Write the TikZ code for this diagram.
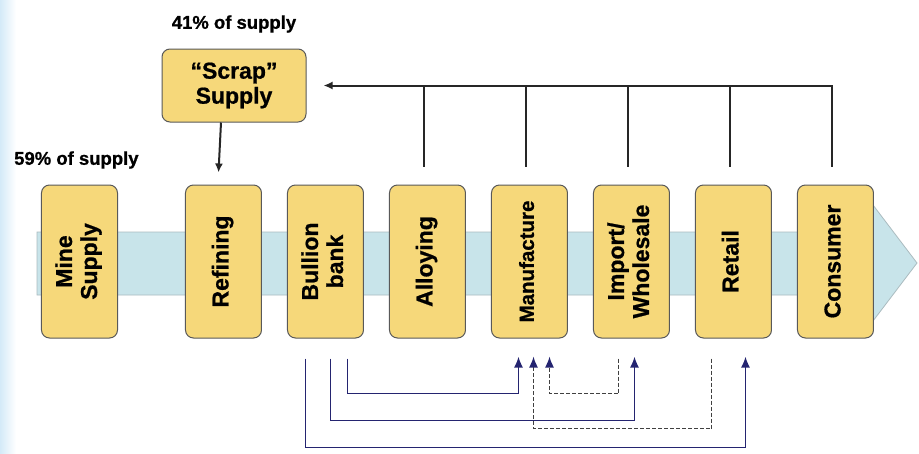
\documentclass[tikz,border=0pt]{standalone}
\usepackage{fontspec}
\setmainfont[BoldFeatures={FakeBold=0.8}]{Liberation Sans}
\usepackage{graphicx}
\usepackage{tikz}
\usetikzlibrary{matrix,arrows.meta,positioning}
\definecolor{boxyellow}{RGB}{246,216,122}
\definecolor{bandblue}{RGB}{200,228,234}
\definecolor{navy}{RGB}{36,36,112}
\definecolor{edgeblue}{RGB}{212,234,248}
\newcommand{\vlab}[1]{\rotatebox{90}{\begin{tabular}{@{}c@{}}#1\end{tabular}}}
\tikzset{
	stage/.style={draw=black!65, fill=boxyellow, rounded corners=8pt, line width=1pt,
		minimum width=76pt, minimum height=153pt, inner sep=0pt, anchor=center,
		font=\bfseries\fontsize{23}{25}\selectfont},
	share/.style={font=\bfseries\fontsize{18.5}{20}\selectfont, inner sep=0pt},
	ret/.style={draw=black!85, line width=2pt, ->, >={Latex[length=9pt,width=8pt]}},
	flow/.style={draw=navy, line width=1.8pt, -{Latex[length=11pt,width=9pt]}},
	back/.style={draw=black!75, line width=1.6pt, dash pattern=on 4pt off 2pt,
		-{Latex[length=11pt,width=9pt,color=navy]}}
}

\begin{document}
\begin{tikzpicture}[x=1pt, y=-1pt]
			\useasboundingbox (0,0) rectangle (919,453);
			\fill[white] (0,0) rectangle (919,453);
			\shade[left color=edgeblue, right color=white] (0,0) rectangle (16,453);
			% the supply chain band
			\draw[bandblue!60!gray, fill=bandblue, line width=0.8pt]
			(37,232) -- (873,232) -- (873,205) -- (917,263) -- (873,321) -- (873,295) -- (37,295) -- cycle;
			\matrix (c) [matrix of nodes, nodes={stage}, column sep=25pt] at (457.5,261.5)
			{
				\vlab{Mine\\Supply} &[42pt] \vlab{Refining} & \vlab{Bullion\\bank} & \vlab{Alloying} &
				|[font=\bfseries\fontsize{20.5}{22}\selectfont]| \vlab{Manufacture} &
				\vlab{Import/\\Wholesale} & \vlab{Retail} & \vlab{Consumer} \\
			};
			\node[stage, minimum width=144pt, minimum height=73pt, align=center] (scrap) at (234,85.5) {“Scrap”\\Supply};
			\node[share] (scrapshare) at (234,24) {41\% of supply};
			\node[share, anchor=west] (mineshare) at (14,160) {59\% of supply};
			% scrap returns
			\draw[ret] ([xshift=-13pt]scrap.south) -- ([xshift=-5pt,yshift=12pt]c-1-2.north);
			\draw[ret] ([xshift=-4pt,yshift=18pt]c-1-8.north) |- ([xshift=17pt]scrap.east);
			\foreach \k in {4,...,7}
				\draw[ret, -] ([xshift=-4pt,yshift=18pt]c-1-\k.north) coordinate (t) -- (t |- scrap.east);
			% trade flows
			\draw[flow] ([xshift=22pt,yshift=-20pt]c-1-3.south) -- ++(0,35) -| ([xshift=-11pt,yshift=-18pt]c-1-5.south);
			\draw[flow] ([xshift=5pt,yshift=-20pt]c-1-3.south) -- ++(0,62) -| ([xshift=3pt,yshift=-18pt]c-1-6.south);
			\draw[flow] ([xshift=-20pt,yshift=-20pt]c-1-3.south) -- ++(0,89) -| ([xshift=12pt,yshift=-18pt]c-1-7.south);
			\draw[back] ([xshift=-13pt,yshift=-20pt]c-1-6.south) -- ++(0,35) -| ([xshift=20pt,yshift=-18pt]c-1-5.south);
			\draw[back] ([xshift=-22pt,yshift=-20pt]c-1-7.south) -- ++(0,70) -| ([xshift=4pt,yshift=-18pt]c-1-5.south);
		\end{tikzpicture}
\end{document}
